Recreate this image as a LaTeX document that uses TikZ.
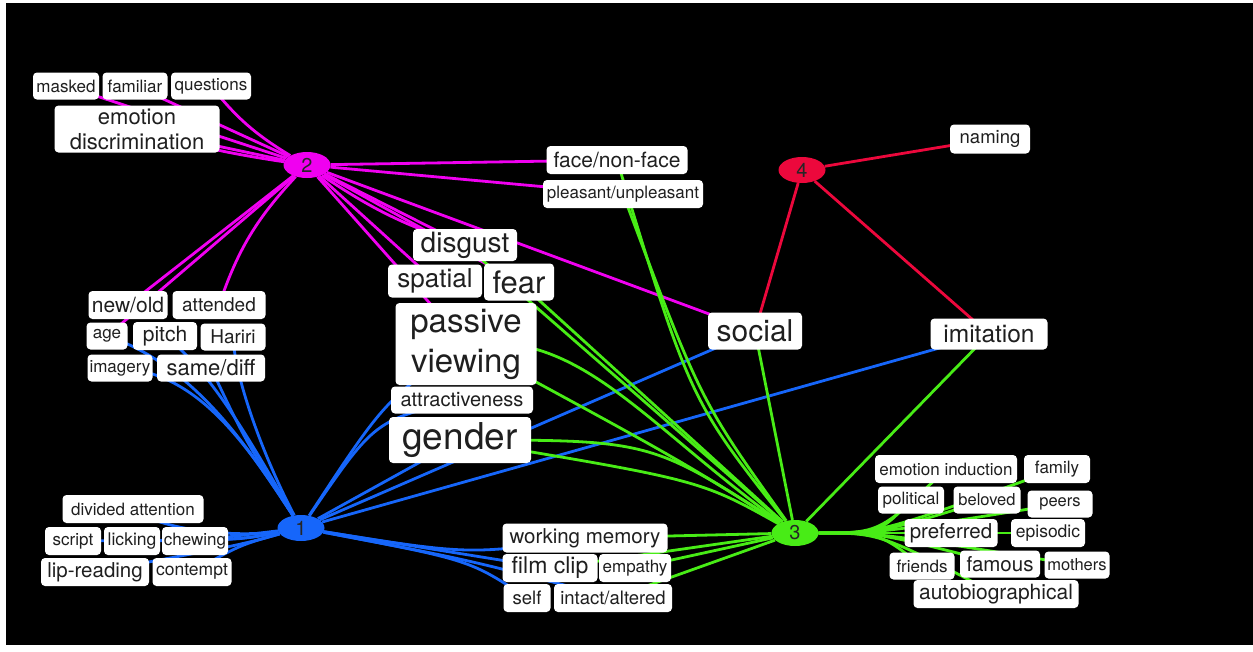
\documentclass[tikz,border=0pt]{standalone}
\usepackage{fontspec}
\setmainfont{TeX Gyre Heros}
\usepackage{tikz}
\usetikzlibrary{shapes.geometric}
\definecolor{hubpink}{RGB}{240,0,240}
\definecolor{hubblue}{RGB}{22,102,250}
\definecolor{hubgreen}{RGB}{72,236,22}
\definecolor{hubred}{RGB}{236,8,60}
\pgfdeclarelayer{paper}
\pgfdeclarelayer{links}
\pgfsetlayers{paper,links,main}

\begin{document}
\begin{tikzpicture}[
x=1pt, y=-1pt,
tag/.style n args={3}{fill=white, rounded corners=4pt, inner sep=0pt, align=center,
  text=black!88, font=\fontsize{#1}{#1}\selectfont, minimum width=#2, minimum height=#3},
hub/.style={ellipse, fill=#1, minimum width=47, minimum height=26, inner sep=0pt,
  text=black!85, font=\fontsize{20}{20}\selectfont},
link/.style={draw=#1, line width=2.8pt}
]
\useasboundingbox (0,0) rectangle (1253,651);

% hubs
\node[hub=hubpink] (hub2) at (307,165) {2};
\node[hub=hubblue] (hub1) at (301,528) {1};
\node[hub=hubgreen] (hub3) at (795,533) {3};
\node[hub=hubred] (hub4) at (802,170) {4};

% upper left
\node[tag={17}{66}{27}] (masked) at (66,86) {masked};
\node[tag={17}{65}{27}] (familiar) at (135,86) {familiar};
\node[tag={17}{80}{27}] (questions) at (211,86) {questions};
\node[tag={22}{165}{47}] (emodisc) at (137,129) {emotion\\[3pt]discrimination};

% middle left
\node[tag={21}{79}{28}] (newold) at (128,305) {new/old};
\node[tag={19}{93}{28}] (attended) at (219,305) {attended};
\node[tag={17}{41}{27}] (age) at (107,336) {age};
\node[tag={21}{64}{28}] (pitch) at (165,336) {pitch};
\node[tag={19}{65}{27}] (hariri) at (233,337) {Hariri};
\node[tag={17}{65}{27}] (imagery) at (120,368) {imagery};
\node[tag={22}{108}{27}] (samediff) at (211,368) {same/diff};

% lower left
\node[tag={17}{141}{28}] (divided) at (133,509) {divided attention};
\node[tag={17}{56}{28}] (script) at (73,541) {script};
\node[tag={17.5}{56}{28}] (licking) at (132,541) {licking};
\node[tag={17}{66}{28}] (chewing) at (195,541) {chewing};
\node[tag={20.5}{108}{28}] (lipreading) at (95,572) {lip-reading};
\node[tag={17.5}{79}{28}] (contempt) at (192,572) {contempt};

% centre
\node[tag={21}{141}{28}] (facenon) at (617,160) {face/non-face};
\node[tag={17}{160}{28}] (pleasant) at (623,194) {pleasant/unpleasant};
\node[tag={28}{104}{32}] (disgust) at (465,245) {disgust};
\node[tag={26}{94}{33}] (spatial) at (435,281) {spatial};
\node[tag={31}{70}{37}] (fear) at (519,282) {fear};
\node[tag={33}{141}{82}] (passive) at (466,344) {passive\\[7pt]viewing};
\node[tag={20}{142}{27}] (attract) at (462,400) {attractiveness};
\node[tag={37}{142}{46}] (gender) at (460,440) {gender};
\node[tag={30}{94}{37}] (social) at (755,331) {social};
\node[tag={24.5}{117}{31}] (imitation) at (989,334) {imitation};
\node[tag={18.5}{80}{29}] (naming) at (990,139) {naming};

% lower middle
\node[tag={20.5}{165}{29}] (workmem) at (585,538) {working memory};
\node[tag={23}{95}{28}] (filmclip) at (550,568) {film clip};
\node[tag={17}{72}{28}] (empathy) at (635,568) {empathy};
\node[tag={18.5}{47}{28}] (self) at (527,598) {self};
\node[tag={18.5}{118}{28}] (intact) at (613,598) {intact/altered};

% lower right
\node[tag={17}{142}{28}] (emoind) at (946,469) {emotion induction};
\node[tag={17}{66}{28}] (family) at (1057,469) {family};
\node[tag={17}{66}{27}] (political) at (911,500) {political};
\node[tag={16.5}{67}{27}] (beloved) at (987,500) {beloved};
\node[tag={16.5}{65}{27}] (peers) at (1060,504) {peers};
\node[tag={20.5}{93}{28}] (preferred) at (951,533) {preferred};
\node[tag={17.5}{74}{28}] (episodic) at (1048,533) {episodic};
\node[tag={17}{65}{27}] (friends) at (922,566) {friends};
\node[tag={20.5}{80}{27}] (famous) at (1000,564) {famous};
\node[tag={16.5}{65}{27}] (mothers) at (1077,565) {mothers};
\node[tag={21}{165}{28}] (autobio) at (996,594) {autobiographical};

\begin{pgfonlayer}{paper}
\fill[white] (0,0) rectangle (1253,651);
\fill[black] (6,3) rectangle (1253,645);
\end{pgfonlayer}

\begin{pgfonlayer}{links}
% hub 2
\draw[link=hubpink] (hub2) -- (masked.center);
\draw[link=hubpink] (hub2) -- (familiar.center);
\draw[link=hubpink] (hub2) to[bend left=10] (questions.center);
\draw[link=hubpink] (hub2) -- (emodisc.center);
\draw[link=hubpink] (hub2) to[bend left=4] (emodisc.center);
\draw[link=hubpink] (hub2) -- (newold.center);
\draw[link=hubpink] (hub2) -- (age.center);
\draw[link=hubpink] (hub2) to[bend right=12] (attended.center);
\draw[link=hubpink] (hub2) -- (facenon.center);
\draw[link=hubpink] (hub2) -- (pleasant.center);
\draw[link=hubpink] (hub2) -- (disgust.center);
\draw[link=hubpink] (hub2) to[bend right=8] (disgust.center);
\draw[link=hubpink] (hub2) -- (spatial.center);
\draw[link=hubpink] (hub2) -- (passive.center);
\draw[link=hubpink] (hub2) -- (fear.center);
\draw[link=hubpink] (hub2) -- (social.center);

% hub 1
\draw[link=hubblue] (hub1) .. controls (245,440) .. (samediff.center);
\draw[link=hubblue] (hub1) .. controls (250,450) and (200,372) .. (imagery.center);
\draw[link=hubblue] (hub1) .. controls (250,450) and (195,365) .. (age.center);
\draw[link=hubblue] (hub1) .. controls (255,450) and (215,375) .. (pitch.center);
\draw[link=hubblue] (hub1) .. controls (265,460) and (235,380) .. (hariri.center);
\draw[link=hubblue] (hub1) -- (chewing.center);
\draw[link=hubblue] (hub1) .. controls (240,540) .. (licking.center);
\draw[link=hubblue] (hub1) .. controls (240,540) .. (script.center);
\draw[link=hubblue] (hub1) .. controls (240,545) .. (contempt.center);
\draw[link=hubblue] (hub1) .. controls (240,545) .. (lipreading.center);
\draw[link=hubblue] (hub1) .. controls (235,538) and (160,530) .. (divided.center);
\draw[link=hubblue] (hub1) -- (filmclip.center);
\draw[link=hubblue] (hub1) .. controls (470,560) .. (self.center);
\draw[link=hubblue] (hub1) .. controls (470,555) .. (workmem.center);
\draw[link=hubblue] (hub1) .. controls (470,560) .. (intact.center);
\draw[link=hubblue] (hub1) .. controls (385,400) .. (passive.center);
\draw[link=hubblue] (hub1) .. controls (375,420) .. (attract.center);
\draw[link=hubblue] (hub1) -- (gender.center);
\draw[link=hubblue] (hub1) -- (social.center);
\draw[link=hubblue] (hub1) -- (imitation.center);

% hub 3
\draw[link=hubgreen] (hub3) .. controls (690,400) .. (facenon.center);
\draw[link=hubgreen] (hub3) .. controls (700,400) .. (pleasant.center);
\draw[link=hubgreen] (hub3) -- (social.center);
\draw[link=hubgreen] (hub3) -- (imitation.center);
\draw[link=hubgreen] (hub3) -- (fear.center);
\draw[link=hubgreen] (hub3) -- (disgust.center);
\draw[link=hubgreen] (hub3) .. controls (640,420) and (580,330) .. (passive.center);
\draw[link=hubgreen] (hub3) .. controls (680,460) .. (passive.center);
\draw[link=hubgreen] (hub3) .. controls (700,480) .. (gender.center);
\draw[link=hubgreen] (hub3) .. controls (650,440) .. (gender.center);
\draw[link=hubgreen] (hub3) -- (workmem.center);
\draw[link=hubgreen] (hub3) -- (empathy.center);
\draw[link=hubgreen] (hub3) -- (filmclip.center);
\draw[link=hubgreen] (hub3) -- (intact.center);
\draw[link=hubgreen] (hub3) .. controls (880,533) .. (emoind.center);
\draw[link=hubgreen] (hub3) .. controls (880,533) .. (political.center);
\draw[link=hubgreen] (hub3) .. controls (880,533) .. (beloved.center);
\draw[link=hubgreen] (hub3) .. controls (880,533) .. (family.center);
\draw[link=hubgreen] (hub3) .. controls (880,533) .. (peers.center);
\draw[link=hubgreen] (hub3) .. controls (880,533) .. (preferred.center);
\draw[link=hubgreen] (hub3) .. controls (880,533) .. (episodic.center);
\draw[link=hubgreen] (hub3) .. controls (880,533) .. (friends.center);
\draw[link=hubgreen] (hub3) .. controls (880,533) .. (famous.center);
\draw[link=hubgreen] (hub3) .. controls (880,533) .. (mothers.center);
\draw[link=hubgreen] (hub3) .. controls (880,533) .. (autobio.center);

% hub 4
\draw[link=hubred] (hub4) -- (naming.center);
\draw[link=hubred] (hub4) -- (social.center);
\draw[link=hubred] (hub4) -- (imitation.center);
\end{pgfonlayer}
\end{tikzpicture}
\end{document}
